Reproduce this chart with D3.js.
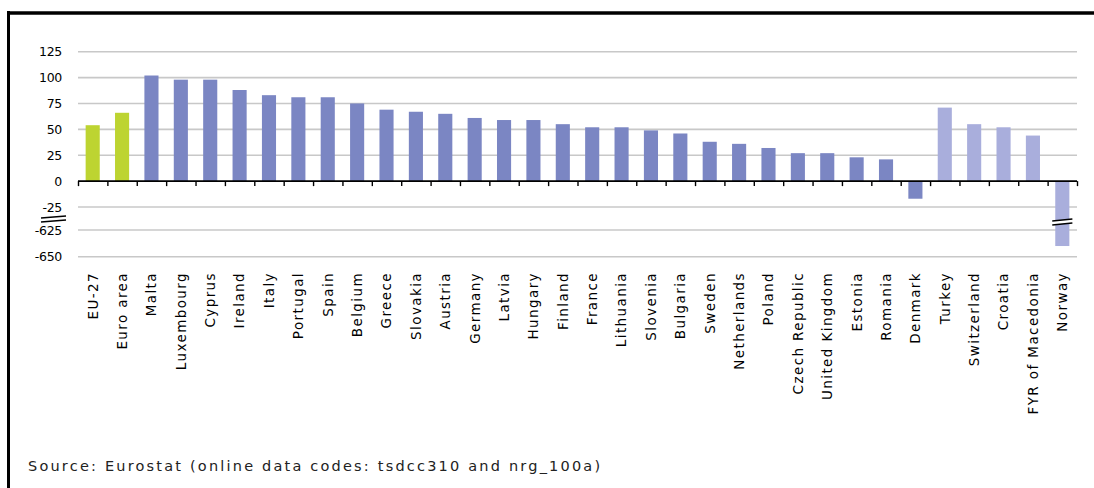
<!DOCTYPE html>
<html>
<head>
<meta charset="utf-8">
<script src="https://cdn.jsdelivr.net/npm/d3@7"></script>
<style>
  body { margin: 0; background: #fff; }
  svg text { font-family: "DejaVu Sans", Verdana, sans-serif; fill: #000; }
</style>
</head>
<body>
<svg id="chart"></svg>
<script>

var countries = ["EU-27", "Euro area", "Malta", "Luxembourg", "Cyprus", "Ireland", "Italy",
    "Portugal", "Spain", "Belgium", "Greece", "Slovakia", "Austria", "Germany", "Latvia",
    "Hungary", "Finland", "France", "Lithuania", "Slovenia", "Bulgaria", "Sweden",
    "Netherlands", "Poland", "Czech Republic", "United Kingdom", "Estonia", "Romania",
    "Denmark", "Turkey", "Switzerland", "Croatia", "FYR of Macedonia", "Norway"];

var values = [54, 66, 102, 98, 98, 88, 83, 81, 81, 75, 69, 67, 65, 61, 59, 59, 55, 52, 52,
    49, 46, 38, 36, 32, 27, 27, 23, 21, -17, 71, 55, 52, 44, -640];

// 0 = aggregates, 1 = member states, 2 = other countries
var groups = [0, 0, 1, 1, 1, 1, 1, 1, 1, 1, 1, 1, 1, 1, 1, 1, 1, 1, 1, 1, 1, 1, 1, 1, 1,
    1, 1, 1, 1, 2, 2, 2, 2, 2];

var yTicks = [125, 100, 75, 50, 25, 0, -25, -625, -650];

var colors = ["#bdd431", "#7b86c3", "#a9aedc"];

var width = 1094, height = 488;

var svg = d3.select("#chart")
    .attr("width", width)
    .attr("height", height);

// frame (top and left only)
svg.append("line").attr("x1", 8).attr("x2", width).attr("y1", 13).attr("y2", 13)
    .attr("stroke", "#000").attr("stroke-width", 3.5);
svg.append("line").attr("x1", 8.5).attr("x2", 8.5).attr("y1", 11).attr("y2", height)
    .attr("stroke", "#000").attr("stroke-width", 3);

// broken value axis: -25 .. -625 squeezed into a short gap
var y = d3.scaleLinear()
    .domain([125, -25, -625, -650])
    .range([51.7, 207, 230, 256.7]);

var x = d3.scaleBand()
    .domain(countries)
    .range([78, 1077])
    .paddingInner(0.52)
    .paddingOuter(0.26);

// grid
svg.append("g").selectAll("line")
    .data(yTicks.filter(function (d) { return d !== 0; }))
    .enter().append("line")
    .attr("x1", 78).attr("x2", 1077)
    .attr("y1", function (d) { return y(d); })
    .attr("y2", function (d) { return y(d); })
    .attr("stroke", "#c8c8c8")
    .attr("stroke-width", 1.6);

// y labels
svg.append("g").selectAll("text")
    .data(yTicks)
    .enter().append("text")
    .attr("x", 62)
    .attr("y", function (d) { return y(d); })
    .attr("dy", "0.36em")
    .attr("text-anchor", "end")
    .style("font-size", "12.5px")
    .style("letter-spacing", "-0.3px")
    .text(function (d) { return d; });

// break mark on the y axis
[217, 221].forEach(function (yy) {
    svg.append("line").attr("x1", 41).attr("x2", 66)
        .attr("y1", yy + 1).attr("y2", yy - 1)
        .attr("stroke", "#000").attr("stroke-width", 1.3);
});

// bars
svg.append("g").selectAll("rect")
    .data(countries)
    .enter().append("rect")
    .attr("x", function (d) { return x(d); })
    .attr("width", x.bandwidth())
    .attr("y", function (d, i) { return Math.min(y(values[i]), y(0)); })
    .attr("height", function (d, i) { return Math.abs(y(values[i]) - y(0)); })
    .attr("fill", function (d, i) { return colors[groups[i]]; });

// break on the Norway bar
var nx = x("Norway");
svg.append("path")
    .attr("d", "M" + (nx - 3) + "," + 221 + "L" + (nx + x.bandwidth() + 3) + "," + 219 +
        "L" + (nx + x.bandwidth() + 3) + "," + 223 + "L" + (nx - 3) + "," + 225 + "Z")
    .attr("fill", "#fff");
[221, 225].forEach(function (yy) {
    svg.append("line").attr("x1", nx - 3).attr("x2", nx + x.bandwidth() + 3)
        .attr("y1", yy).attr("y2", yy - 2)
        .attr("stroke", "#000").attr("stroke-width", 1.3);
});

// category axis
var step = x.step();
svg.append("line").attr("x1", 78).attr("x2", 1077).attr("y1", y(0)).attr("y2", y(0))
    .attr("stroke", "#000").attr("stroke-width", 1.6);
svg.append("g").selectAll("line")
    .data(d3.range(countries.length + 1))
    .enter().append("line")
    .attr("x1", function (i) { return 78.5 + i * step; })
    .attr("x2", function (i) { return 78.5 + i * step; })
    .attr("y1", y(0)).attr("y2", y(0) + 5)
    .attr("stroke", "#000").attr("stroke-width", 1.4);

// category labels
svg.append("g").selectAll("text")
    .data(countries)
    .enter().append("text")
    .attr("transform", function (d) {
        return "translate(" + (x(d) + x.bandwidth() / 2) + ",272) rotate(-90)";
    })
    .attr("dy", "0.36em")
    .attr("text-anchor", "end")
    .style("font-size", "13.5px")
    .style("letter-spacing", "1.4px")
    .text(function (d) { return d; });

svg.append("text")
    .attr("x", 28).attr("y", 471)
    .style("font-size", "14.5px")
    .style("letter-spacing", "2.2px")
    .style("fill", "#222")
    .text("Source: Eurostat (online data codes: tsdcc310 and nrg_100a)");

</script>
</body>
</html>
